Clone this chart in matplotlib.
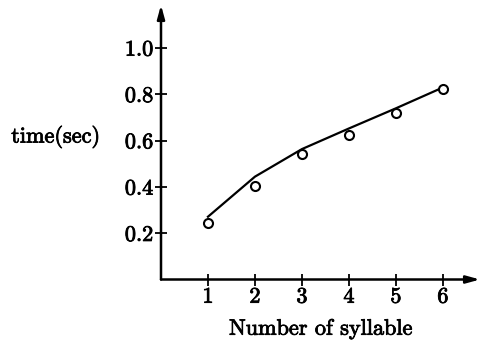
import matplotlib
matplotlib.use("Agg")
import matplotlib.pyplot as plt
import matplotlib.patheffects as pe

syllables = [1, 2, 3, 4, 5, 6]
measured_time = [0.244, 0.403, 0.542, 0.624, 0.720, 0.821]
fit_time = [0.271, 0.444, 0.563, 0.652, 0.739, 0.829]
y_ticks = [0.2, 0.4, 0.6, 0.8, 1.0]
y_tick_labels = ["0.2", "0.4", "0.6", "0.8", "1.0"]

plt.rcParams['font.family'] = ['cmr10', 'DejaVu Serif']
plt.rcParams['axes.unicode_minus'] = False

FS = 16
effects = [pe.withStroke(linewidth=0.6, foreground='black')]

fig = plt.figure(figsize=(4.82, 3.48), dpi=100)
ax = fig.add_axes([161/482, 1 - 279.5/348, (480-161)/482, (279.5-5)/348])
ax.set_xlim(0, 6.79)
ax.set_ylim(0, 1.185)

ax.plot(syllables, fit_time, color='black', lw=1.6, zorder=2)
ax.plot(syllables, measured_time, linestyle='none', marker='o', ms=6.5,
        mfc='white', mec='black', mew=1.5, zorder=3)

for s in ['top', 'right', 'left', 'bottom']:
    ax.spines[s].set_visible(False)

ax.annotate('', xy=(1, 0), xycoords='axes fraction', xytext=(0, 0),
            arrowprops=dict(arrowstyle='-|>,head_length=0.8,head_width=0.22',
                            color='black', lw=1.8, shrinkA=0, shrinkB=0))
ax.annotate('', xy=(0, 1), xycoords='axes fraction', xytext=(0, 0),
            arrowprops=dict(arrowstyle='-|>,head_length=0.8,head_width=0.22',
                            color='black', lw=1.8, shrinkA=0, shrinkB=0))

ax.set_xticks(syllables)
ax.set_xticklabels([str(v) for v in syllables])
ax.set_yticks(y_ticks)
ax.set_yticklabels(y_tick_labels)
ax.tick_params(direction='inout', length=9, width=1.3, labelsize=FS, pad=1)
for lab in ax.get_xticklabels() + ax.get_yticklabels():
    lab.set_path_effects(effects)

ax.set_xlabel('Number of syllable', fontsize=FS, labelpad=9, path_effects=effects)
ax.set_ylabel('time(sec)', fontsize=FS, rotation=0, path_effects=effects)
ax.yaxis.set_label_coords(-0.33, (279.5-137)/274.5, transform=ax.transAxes)
ax.yaxis.label.set_ha('center')
ax.yaxis.label.set_va('center')

fig.savefig('out.png', dpi=100)
